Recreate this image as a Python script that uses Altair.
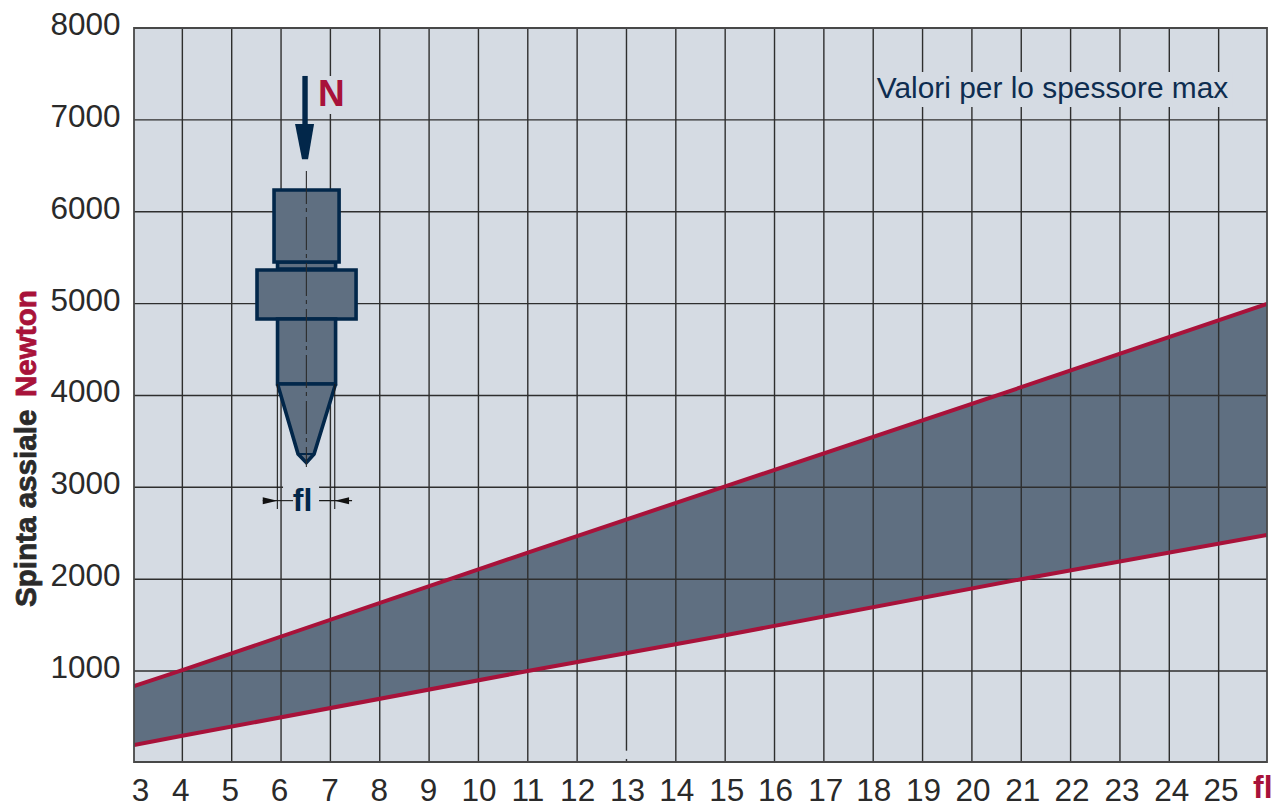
import altair as alt
import pandas as pd

FONT = "Liberation Sans"
NAVY = "#02274a"
RED = "#a8123a"
SLATE = "#5f6f81"
PANEL = "#d5dbe3"
GRID = "#2e2e2e"
INK = "#2a2a2a"

x_domain = [3.02, 25.98]
y_domain = [10, 8000]

band_x = [3.02, 4, 11, 15, 21, 25.98]
band_upper = [837, 1010, 2290, 3010, 4090, 4996]
band_lower = [195, 295, 1000, 1390, 2000, 2481]

grid_x = list(range(4, 26))
grid_y = [1000, 2000, 3000, 4000, 5000, 6000, 7000]
y_ticks = [1000, 2000, 3000, 4000, 5000, 6000, 7000, 8000]
x_label_positions = [3.14, 3.96, 4.96, 5.96, 6.98, 7.98, 8.98, 10.0, 10.99, 12.0, 13.01,
                     14.01, 15.02, 16.01, 17.03, 18.0, 19.01, 20.01, 21.02, 22.02, 23.03,
                     24.04, 25.04]

# Diagram of the punch, in chart units
blocks_x = [5.929, 5.858, 5.513, 5.929]
blocks_x2 = [7.105, 7.176, 7.520, 7.105]
blocks_y = [5453, 6237, 5366, 4833]
blocks_y2 = [5377, 5453, 4833, 4125]

cone_y = [4125, 3363, 3268]
cone_left = [5.929, 6.345, 6.513]
cone_right = [7.105, 6.669, 6.513]
cone_outline_x = [5.929, 6.345, 6.513, 6.669, 7.105]
cone_outline_y = [4125, 3363, 3268, 3363, 4125]
cone_bar_x = [5.929, 7.105]
cone_bar_y = [4125, 4125]
tip_bar_x = [6.345, 6.669]
tip_bar_y = [3363, 3363]

arrow_x = [6.486]
arrow_y = [7478]
arrow_y2 = [6955]
head_y = [6955, 6571]
head_left = [6.284, 6.425]
head_right = [6.669, 6.547]

centre_x = [6.513]
centre_y = [6444]
centre_y2 = [3221]

ext_x = [5.925, 7.088]
ext_y = [4125, 4125]
ext_y2 = [2764, 2764]
dim_x = [5.629, 6.770]
dim_x2 = [6.243, 7.439]
dim_y = [2855, 2855]
wedge_left_x = [5.629, 5.925]
wedge_right_x = [7.088, 7.378]
wedge_hi = [2893, 2855]
wedge_lo = [2817, 2855]
wedge_right_hi = [2855, 2893]
wedge_right_lo = [2855, 2817]

# Panel-coloured knock-outs behind labels
gap_x = [6.75, 6.04, 18.06, 12.95]
gap_x2 = [7.30, 6.77, 25.28, 13.05]
gap_y = [7478, 3058, 7521, 133]
gap_y2 = [7064, 2732, 7140, 43]

axis_x = alt.Axis(values=x_label_positions, labelExpr="format(round(datum.value),'d')",
                  grid=False, domain=False, ticks=False, title=None, labelFont=FONT, labelFontSize=31.5,
                  labelColor=INK, labelPadding=38, labelBaseline="alphabetic", labelOverlap=False,
                  labelFlush=False, labelBound=False)
axis_y = alt.Axis(values=y_ticks, grid=False, domain=False, ticks=False, title=None, labelFont=FONT,
                  labelFontSize=31.5, labelColor=INK, labelPadding=14, labelOffset=-2.5, labelOverlap=False,
                  labelFlush=False, labelBound=False, format="d")


def X(field):
    return alt.X(field, type="quantitative", scale=alt.Scale(domain=x_domain, nice=False, zero=False), axis=axis_x)


def Y(field):
    return alt.Y(field, type="quantitative", scale=alt.Scale(domain=y_domain, nice=False, zero=False), axis=axis_y)


X2 = lambda f: alt.X2(f)
Y2 = lambda f: alt.Y2(f)

band_df = pd.DataFrame({"x": band_x, "u": band_upper, "l": band_lower})

area = alt.Chart(band_df).mark_area(color=SLATE, opacity=1).encode(X("x"), Y("u"), Y2("l"))

grid_v = alt.Chart(pd.DataFrame({"x": grid_x})).mark_rule(color=GRID, strokeWidth=1.4).encode(X("x"))
grid_h = alt.Chart(pd.DataFrame({"y": grid_y})).mark_rule(color=GRID, strokeWidth=1.4).encode(Y("y"))

gaps = alt.Chart(pd.DataFrame({"x": gap_x, "x2": gap_x2, "y": gap_y, "y2": gap_y2})).mark_rect(color=PANEL).encode(
    X("x"), X2("x2"), Y("y"), Y2("y2"))

frame = alt.Chart(pd.DataFrame({"x": [x_domain[0]], "x2": [x_domain[1]], "y": [y_domain[1]], "y2": [y_domain[0]]})).mark_rect(
    fillOpacity=0, stroke="#484848", strokeWidth=1.8).encode(X("x"), X2("x2"), Y("y"), Y2("y2"))

upper_line = alt.Chart(band_df).mark_line(color=RED, strokeWidth=4, clip=True).encode(X("x"), Y("u"))
lower_line = alt.Chart(band_df).mark_line(color=RED, strokeWidth=4, clip=True).encode(X("x"), Y("l"))

blocks = alt.Chart(pd.DataFrame({"x": blocks_x, "x2": blocks_x2, "y": blocks_y, "y2": blocks_y2})).mark_rect(
    fill=SLATE, stroke=NAVY, strokeWidth=3.6).encode(X("x"), X2("x2"), Y("y"), Y2("y2"))

cone = alt.Chart(pd.DataFrame({"y": cone_y, "a": cone_left, "b": cone_right})).mark_area(
    color=SLATE, orient="horizontal", opacity=1).encode(X("a"), X2("b"), Y("y"))
cone_line = alt.Chart(pd.DataFrame({"x": cone_outline_x, "y": cone_outline_y, "o": range(5)})).mark_line(
    color=NAVY, strokeWidth=3.6, strokeJoin="miter").encode(X("x"), Y("y"), order="o:Q")
cone_bar = alt.Chart(pd.DataFrame({"x": cone_bar_x, "y": cone_bar_y})).mark_line(
    color=NAVY, strokeWidth=3.6).encode(X("x"), Y("y"))
tip_bar = alt.Chart(pd.DataFrame({"x": tip_bar_x, "y": tip_bar_y})).mark_line(
    color=NAVY, strokeWidth=2).encode(X("x"), Y("y"))

centre = alt.Chart(pd.DataFrame({"x": centre_x, "y": centre_y, "y2": centre_y2})).mark_rule(
    color="#2b2b2b", strokeWidth=1.1, strokeDash=[33, 4, 4, 5]).encode(X("x"), Y("y"), Y2("y2"))

shaft = alt.Chart(pd.DataFrame({"x": arrow_x, "y": arrow_y, "y2": arrow_y2})).mark_rule(
    color=NAVY, strokeWidth=5.4).encode(X("x"), Y("y"), Y2("y2"))
head = alt.Chart(pd.DataFrame({"y": head_y, "a": head_left, "b": head_right})).mark_area(
    color=NAVY, orient="horizontal", opacity=1).encode(X("a"), X2("b"), Y("y"))

ext = alt.Chart(pd.DataFrame({"x": ext_x, "y": ext_y, "y2": ext_y2})).mark_rule(
    color="#1a1a1a", strokeWidth=1.1).encode(X("x"), Y("y"), Y2("y2"))
dim = alt.Chart(pd.DataFrame({"x": dim_x, "x2": dim_x2, "y": dim_y})).mark_rule(
    color="#1a1a1a", strokeWidth=1.1).encode(X("x"), X2("x2"), Y("y"))
wedge_l = alt.Chart(pd.DataFrame({"x": wedge_left_x, "a": wedge_hi, "b": wedge_lo})).mark_area(
    color="#111111", opacity=1).encode(X("x"), Y("a"), Y2("b"))
wedge_r = alt.Chart(pd.DataFrame({"x": wedge_right_x, "a": wedge_right_hi, "b": wedge_right_lo})).mark_area(
    color="#111111", opacity=1).encode(X("x"), Y("a"), Y2("b"))


def label(text, x, y, size, color, bold=True, align="center"):
    return alt.Chart(pd.DataFrame({"x": [x], "y": [y]})).mark_text(
        text=text, font=FONT, fontSize=size, fontWeight="bold" if bold else "normal", color=color,
        align=align, baseline="alphabetic").encode(X("x"), Y("y"))


def free_label(text, px, py, size, color, angle=0, thick=0.0):
    return alt.Chart(pd.DataFrame({"a": [0]})).mark_text(
        text=text, font=FONT, fontSize=size, fontWeight="bold", color=color, align="left",
        baseline="alphabetic", angle=angle, stroke=color, strokeWidth=thick).encode(x=alt.value(px), y=alt.value(py))


n_label = label("N", 7.02, 7156, 37, RED)
fl_label = label("fl", 6.436, 2746, 32, NAVY)
note = label("Valori per lo spessore max", 18.07, 7235, 29.9, "#0e2d50", bold=False, align="left")
title_a = free_label("Spinta assiale", -98, 579, 29.6, INK, angle=270, thick=0.8)
title_b = free_label("Newton", -98, 369, 29.6, RED, angle=270, thick=0.8)
fl_axis = free_label("fl", 1119, 770, 32, RED)

chart = alt.layer(
    area, grid_v, grid_h, gaps, upper_line, lower_line, frame,
    shaft, head, blocks, cone, cone_line, cone_bar, tip_bar, centre,
    ext, dim, wedge_l, wedge_r, n_label, fl_label, note, title_a, title_b, fl_axis,
).properties(
    width=1133, height=734, autosize="none",
    padding={"left": 126, "top": 20, "right": 6, "bottom": 40},
    background="white",
).configure_view(fill=PANEL, stroke=None)

chart.save("out.html", embed_options={"renderer": "svg", "actions": False})
